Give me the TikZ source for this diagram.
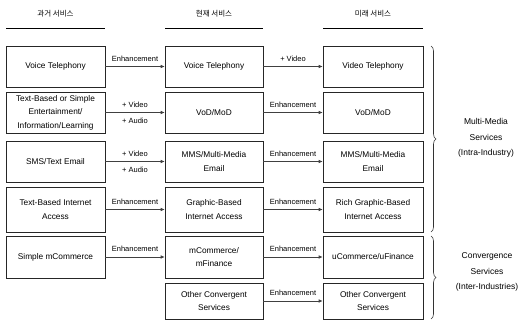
\documentclass[tikz,border=0pt]{standalone}
\usepackage{fontspec}
\setmainfont{Liberation Sans}
\newfontfamily\krfont{Noto Sans CJK KR}
\usetikzlibrary{arrows.meta,decorations.pathreplacing}
\begin{document}
\begin{tikzpicture}[x=1pt,y=-1pt,
  box/.style={draw=black!85,line width=0.6pt,align=center,inner sep=1pt,
    font=\fontsize{8.3}{13.5}\selectfont},
  c1/.style={box,minimum width=99pt},
  c2/.style={box,minimum width=98pt},
  c3/.style={box,minimum width=100pt},
  hdr/.style={font=\krfont\fontsize{7.5}{9}\selectfont},
  arr/.style={draw=black!75,line width=0.6pt,-{Latex[length=4pt,width=3.5pt]}},
  lbl/.style={font=\fontsize{7.5}{9}\selectfont,inner sep=1pt},
  up/.style={lbl,above=4pt},
  dn/.style={lbl,below=4pt},
  side/.style={font=\fontsize{8.5}{15.5}\selectfont,align=center},
  brc/.style={draw=black!80,line width=0.6pt,decorate,decoration={brace,amplitude=5pt}}]
\useasboundingbox (0,0) rectangle (518,320);
% headers
\node[hdr] (h1) at (55.5,14) {과거 서비스};
\node[hdr] (h2) at (214,14) {현재 서비스};
\node[hdr] (h3) at (373,14) {미래 서비스};
\draw[line width=0.9pt] (6,28) -- (105,28);
\draw[line width=0.9pt] (165,28) -- (263,28);
\draw[line width=0.9pt] (323,28) -- (423,28);
% column 1
\node[c1,minimum height=41pt] (a1) at (55.5,66.5) {Voice Telephony};
\node[c1,minimum height=41pt] (a2) at (55.5,112.5) {Text-Based or Simple\\Entertainment/\\Information/Learning};
\node[c1,minimum height=41pt] (a3) at (55.5,161.5) {SMS/Text Email};
\node[c1,minimum height=45pt] (a4) at (55.5,209.5) {Text-Based Internet\\Access};
\node[c1,minimum height=42pt] (a5) at (55.5,257) {Simple mCommerce};
% column 2
\node[c2,minimum height=41pt] (b1) at (214,66.5) {Voice Telephony};
\node[c2,minimum height=41pt] (b2) at (214,112.5) {VoD/MoD};
\node[c2,minimum height=41pt] (b3) at (214,161.5) {MMS/Multi-Media\\Email};
\node[c2,minimum height=45pt] (b4) at (214,209.5) {Graphic-Based\\Internet Access};
\node[c2,minimum height=42pt] (b5) at (214,257) {mCommerce/\\mFinance};
\node[c2,minimum height=36pt] (b6) at (214,301) {Other Convergent\\Services};
% column 3
\node[c3,minimum height=41pt] (d1) at (373,66.5) {Video Telephony};
\node[c3,minimum height=41pt] (d2) at (373,112.5) {VoD/MoD};
\node[c3,minimum height=41pt] (d3) at (373,161.5) {MMS/Multi-Media\\Email};
\node[c3,minimum height=45pt] (d4) at (373,209.5) {Rich Graphic-Based\\Internet Access};
\node[c3,minimum height=42pt] (d5) at (373,257) {uCommerce/uFinance};
\node[c3,minimum height=36pt] (d6) at (373,301) {Other Convergent\\Services};
% arrows col1 -> col2
\draw[arr] (a1) -- node[up] {Enhancement} (b1);
\draw[arr] (a2) -- node[up] {+ Video} node[dn] {+ Audio} (b2);
\draw[arr] (a3) -- node[up] {+ Video} node[dn] {+ Audio} (b3);
\draw[arr] (a4) -- node[up] {Enhancement} (b4);
\draw[arr] (a5) -- node[up] {Enhancement} (b5);
% arrows col2 -> col3
\draw[arr] (b1) -- node[up] {+ Video} (d1);
\draw[arr] (b2) -- node[up] {Enhancement} (d2);
\draw[arr] (b3) -- node[up] {Enhancement} (d3);
\draw[arr] (b4) -- node[up] {Enhancement} (d4);
\draw[arr] (b5) -- node[up] {Enhancement} (d5);
\draw[arr] (b6) -- node[up] {Enhancement} (d6);
% braces
\coordinate (t1) at (431,46);
\coordinate (e1) at (431,232);
\coordinate (t2) at (431,236);
\coordinate (e2) at (431,319);
\draw[brc] (t1) -- (e1);
\draw[brc] (t2) -- (e2);
\node[side] (s1) at (486,138) {Multi-Media\\Services\\(Intra-Industry)};
\node[side] (s2) at (487,272) {Convergence\\Services\\(Inter-Industries)};
\end{tikzpicture}
\end{document}
